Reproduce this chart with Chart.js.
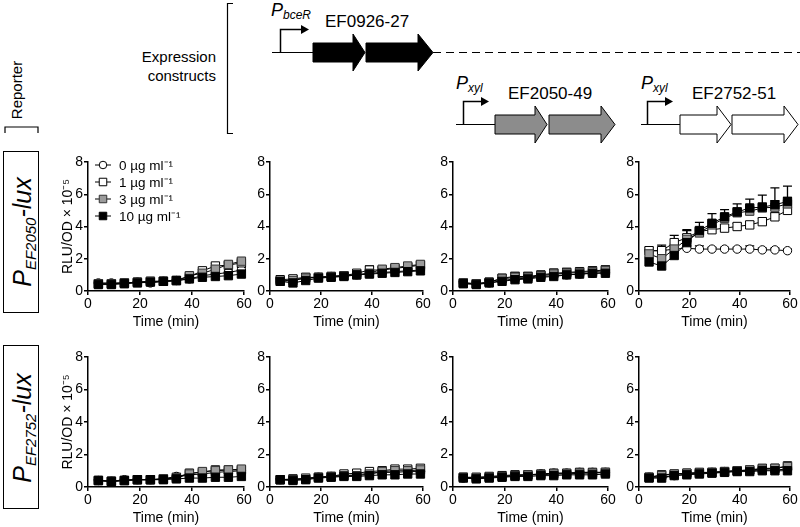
<!DOCTYPE html>
<html>
<head>
<meta charset="utf-8">
<script src="https://cdn.jsdelivr.net/npm/chart.js@4.4.1/dist/chart.umd.min.js"></script>
<style>
  html, body { margin: 0; padding: 0; background: #fff; }
  #wrap { position: relative; width: 800px; height: 527px; overflow: hidden; }
  #wrap svg { position: absolute; left: 0; top: 0; }
  #wrap canvas { position: absolute; }
</style>
</head>
<body>
<div id="wrap">
<svg width="800" height="527" font-family="Liberation Sans, Arial, sans-serif">
  <!-- reporter label + bracket -->
  <text transform="translate(22,90) rotate(-90)" text-anchor="middle" font-size="15">Reporter</text>
  <path d="M5,133 V127 H38 V133" fill="none" stroke="#000" stroke-width="1.2"/>

  <!-- reporter boxes -->
  <rect x="3.5" y="151.5" width="35" height="161" fill="none" stroke="#000" stroke-width="1"/>
  <text transform="translate(31,232) rotate(-90)" text-anchor="middle" font-style="italic"><tspan font-size="25">P</tspan><tspan font-size="15" dy="5">EF2050</tspan><tspan font-size="25" dy="-5">-lux</tspan></text>
  <rect x="3.5" y="345.5" width="35" height="163" fill="none" stroke="#000" stroke-width="1"/>
  <text transform="translate(31,428) rotate(-90)" text-anchor="middle" font-style="italic"><tspan font-size="25">P</tspan><tspan font-size="15" dy="5">EF2752</tspan><tspan font-size="25" dy="-5">-lux</tspan></text>

  <!-- expression constructs label + bracket -->
  <text x="216" y="62" text-anchor="end" font-size="15">Expression</text>
  <text x="216" y="81" text-anchor="end" font-size="15">constructs</text>
  <path d="M233,3.5 H227.5 V133.5 H233" fill="none" stroke="#000" stroke-width="1.2"/>

  <!-- PbceR EF0926-27 -->
  <line x1="272" y1="52.5" x2="313" y2="52.5" stroke="#000" stroke-width="1.2"/>
  <path d="M280.5,52.5 V29.5 H302" fill="none" stroke="#000" stroke-width="1.5"/>
  <polygon points="301,25 309,29.5 301,34" fill="#000"/>
  <text x="271" y="16" font-style="italic" font-size="18">P<tspan font-size="12" dy="3">bceR</tspan></text>
  <text x="325" y="27" font-size="17">EF0926-27</text>
  <polygon points="313,43 353,43 353,34 365,52.5 353,71 353,62 313,62" fill="#000" stroke="#000"/>
  <polygon points="366,43 418,43 418,34 433,52.5 418,71 418,62 366,62" fill="#000" stroke="#000"/>
  <line x1="433" y1="52.5" x2="800" y2="52.5" stroke="#000" stroke-width="1.2" stroke-dasharray="8,5"/>

  <!-- Pxyl EF2050-49 -->
  <line x1="456" y1="124.5" x2="495" y2="124.5" stroke="#000" stroke-width="1.2"/>
  <path d="M463.5,124.5 V101.5 H482" fill="none" stroke="#000" stroke-width="1.5"/>
  <polygon points="481,97 489,101.5 481,106" fill="#000"/>
  <text x="456" y="89" font-style="italic" font-size="18">P<tspan font-size="12" dy="3">xyl</tspan></text>
  <text x="508" y="99" font-size="17">EF2050-49</text>
  <polygon points="495,115 535,115 535,106 547,124.5 535,143 535,134 495,134" fill="#8c8c8c" stroke="#000"/>
  <polygon points="549,115 601,115 601,106 615,124.5 601,143 601,134 549,134" fill="#8c8c8c" stroke="#000"/>

  <!-- Pxyl EF2752-51 -->
  <line x1="641" y1="124.5" x2="680" y2="124.5" stroke="#000" stroke-width="1.2"/>
  <path d="M647.5,124.5 V101.5 H666" fill="none" stroke="#000" stroke-width="1.5"/>
  <polygon points="665,97 673,101.5 665,106" fill="#000"/>
  <text x="641" y="89" font-style="italic" font-size="18">P<tspan font-size="12" dy="3">xyl</tspan></text>
  <text x="692" y="99" font-size="17">EF2752-51</text>
  <polygon points="680,115 717,115 717,106 731,124.5 717,143 717,134 680,134" fill="#fff" stroke="#000"/>
  <polygon points="732,115 784,115 784,106 798,124.5 784,143 784,134 732,134" fill="#fff" stroke="#000"/>
</svg>
</div>

<script>
// time points (min) and labels
const times = [4, 9, 14, 19, 24, 29, 34, 39, 44, 49, 54, 59];
const doses = ['0 µg ml⁻¹', '1 µg ml⁻¹', '3 µg ml⁻¹', '10 µg ml⁻¹'];
const xTicks = [0, 20, 40, 60];
const yTicks = [0, 2, 4, 6, 8];

// reporter PEF2050-lux (top row), RLU/OD x 10^-5
const top_wt_0  = [0.50, 0.50, 0.50, 0.55, 0.50, 0.60, 0.65, 0.75, 0.95, 1.05, 1.15, 1.30];
const top_wt_1  = [0.45, 0.45, 0.50, 0.55, 0.60, 0.60, 0.65, 0.90, 1.25, 1.55, 1.60, 1.75];
const top_wt_3  = [0.45, 0.45, 0.50, 0.55, 0.60, 0.60, 0.65, 0.95, 1.10, 1.35, 1.65, 1.85];
const top_wt_10 = [0.40, 0.40, 0.45, 0.50, 0.55, 0.60, 0.65, 0.75, 0.85, 0.90, 0.95, 1.05];
const top_wt_err = [0.05, 0.05, 0.05, 0.05, 0.05, 0.05, 0.05, 0.10, 0.10, 0.15, 0.15, 0.15];

const top_bce_0  = [0.60, 0.70, 0.80, 0.85, 0.90, 0.95, 1.00, 1.10, 1.15, 1.20, 1.25, 1.30];
const top_bce_1  = [0.70, 0.75, 0.85, 0.85, 0.90, 0.95, 1.10, 1.30, 1.30, 1.40, 1.50, 1.60];
const top_bce_3  = [0.60, 0.65, 0.80, 0.85, 0.90, 0.95, 1.00, 1.10, 1.35, 1.45, 1.55, 1.65];
const top_bce_10 = [0.60, 0.50, 0.65, 0.80, 0.85, 0.90, 1.00, 1.05, 1.10, 1.15, 1.20, 1.25];
const top_bce_err = [0.15, 0.20, 0.20, 0.15, 0.15, 0.15, 0.15, 0.25, 0.15, 0.15, 0.15, 0.15];

const top_2050_0  = [0.50, 0.45, 0.50, 0.65, 0.75, 0.80, 0.90, 0.95, 1.00, 1.05, 1.10, 1.15];
const top_2050_1  = [0.50, 0.45, 0.55, 0.80, 0.90, 0.90, 1.00, 1.10, 1.15, 1.20, 1.25, 1.30];
const top_2050_3  = [0.50, 0.45, 0.55, 0.75, 0.85, 0.85, 0.95, 1.05, 1.10, 1.15, 1.20, 1.25];
const top_2050_10 = [0.45, 0.40, 0.50, 0.60, 0.70, 0.75, 0.85, 0.90, 1.00, 1.05, 1.10, 1.10];
const top_2050_err = [0.10, 0.10, 0.15, 0.20, 0.25, 0.25, 0.20, 0.25, 0.25, 0.20, 0.25, 0.25];

const top_2752_0  = [2.50, 2.50, 2.60, 2.65, 2.60, 2.60, 2.60, 2.60, 2.60, 2.55, 2.55, 2.50];
const top_2752_1  = [2.50, 2.50, 3.00, 3.30, 3.70, 3.80, 3.90, 4.00, 4.10, 4.30, 4.60, 5.00];
const top_2752_3  = [2.30, 2.00, 2.60, 3.20, 3.60, 4.10, 4.50, 4.85, 4.95, 5.15, 5.20, 5.40];
const top_2752_10 = [1.80, 1.55, 2.20, 3.00, 3.75, 4.20, 4.60, 4.90, 5.15, 5.20, 5.35, 5.55];
const top_2752_err0  = [0.10, 0.10, 0.10, 0.15, 0.20, 0.10, 0.10, 0.10, 0.20, 0.10, 0.10, 0.10];
const top_2752_err1  = [0.20, 0.35, 0.45, 0.45, 0.20, 0.20, 0.20, 0.20, 0.20, 0.20, 0.25, 0.20];
const top_2752_err3  = [0.20, 0.20, 0.30, 0.30, 0.30, 0.30, 0.30, 0.30, 0.30, 0.30, 0.40, 0.40];
const top_2752_err10 = [0.30, 0.30, 0.30, 0.80, 0.50, 0.60, 0.45, 0.50, 0.55, 0.75, 1.05, 0.95];

// reporter PEF2752-lux (bottom row)
const bot_wt_0  = [0.40, 0.35, 0.45, 0.45, 0.45, 0.50, 0.65, 0.75, 0.80, 0.90, 0.95, 1.00];
const bot_wt_1  = [0.40, 0.35, 0.40, 0.45, 0.45, 0.50, 0.60, 0.85, 0.90, 1.05, 1.05, 1.05];
const bot_wt_3  = [0.40, 0.35, 0.40, 0.45, 0.45, 0.50, 0.55, 0.80, 0.95, 1.00, 1.05, 1.10];
const bot_wt_10 = [0.40, 0.35, 0.40, 0.45, 0.45, 0.45, 0.50, 0.55, 0.55, 0.60, 0.60, 0.65];
const bot_wt_err = [0.05, 0.05, 0.05, 0.05, 0.05, 0.05, 0.05, 0.10, 0.10, 0.10, 0.10, 0.10];

const bot_bce_0  = [0.45, 0.45, 0.50, 0.60, 0.65, 0.70, 0.75, 0.85, 0.90, 0.90, 0.95, 0.95];
const bot_bce_1  = [0.45, 0.50, 0.50, 0.60, 0.65, 0.80, 0.85, 0.95, 1.00, 1.10, 1.10, 1.15];
const bot_bce_3  = [0.45, 0.45, 0.55, 0.60, 0.65, 0.70, 0.70, 0.80, 0.95, 1.00, 1.00, 1.05];
const bot_bce_10 = [0.45, 0.40, 0.45, 0.55, 0.60, 0.65, 0.65, 0.70, 0.75, 0.75, 0.80, 0.80];
const bot_bce_err = [0.05, 0.05, 0.05, 0.05, 0.05, 0.05, 0.05, 0.10, 0.10, 0.10, 0.10, 0.10];

const bot_2050_0  = [0.55, 0.55, 0.60, 0.65, 0.70, 0.75, 0.80, 0.85, 0.85, 0.90, 0.90, 0.90];
const bot_2050_1  = [0.60, 0.60, 0.65, 0.70, 0.75, 0.75, 0.80, 0.85, 0.85, 0.90, 0.90, 0.90];
const bot_2050_3  = [0.60, 0.55, 0.60, 0.65, 0.70, 0.75, 0.75, 0.80, 0.80, 0.85, 0.85, 0.90];
const bot_2050_10 = [0.55, 0.50, 0.55, 0.60, 0.65, 0.65, 0.70, 0.70, 0.75, 0.75, 0.75, 0.80];
const bot_2050_err = [0.05, 0.05, 0.05, 0.05, 0.05, 0.05, 0.05, 0.05, 0.05, 0.05, 0.05, 0.05];

const bot_2752_0  = [0.60, 0.60, 0.70, 0.80, 0.85, 0.90, 0.95, 1.00, 1.00, 1.05, 1.05, 1.10];
const bot_2752_1  = [0.60, 0.75, 0.80, 0.85, 0.90, 0.90, 0.95, 1.00, 1.05, 1.15, 1.15, 1.30];
const bot_2752_3  = [0.60, 0.70, 0.80, 0.85, 0.85, 0.90, 0.95, 1.00, 1.05, 1.10, 1.15, 1.25];
const bot_2752_10 = [0.55, 0.55, 0.70, 0.75, 0.80, 0.85, 0.90, 0.95, 0.95, 1.00, 1.00, 1.00];
const bot_2752_err = [0.05, 0.05, 0.05, 0.05, 0.05, 0.05, 0.05, 0.05, 0.05, 0.05, 0.05, 0.10];

/* =========================
   LAYOUT + STYLES
========================= */
const FONT = '"Liberation Sans", Arial, sans-serif';
Chart.defaults.font.family = FONT;
Chart.defaults.color = '#000';

const cols = [{ x: 88, w: 156 }, { x: 270, w: 153 }, { x: 453, w: 155 }, { x: 639, w: 151 }];
const rows = [{ y: 162, h: 129 }, { y: 357, h: 130 }];
const AXIS_W = 44, AXIS_H = 42, PAD_T = 10, PAD_R = 14;

// 0, 1, 3, 10 µg/ml
const seriesStyle = [
  { pointStyle: 'circle', radius: 4.2, bg: '#fff',    border: '#000' },
  { pointStyle: 'rect',   radius: 5.9, bg: '#fff',    border: '#000' },
  { pointStyle: 'rect',   radius: 5.9, bg: '#9b9b9b', border: '#333' },
  { pointStyle: 'rect',   radius: 5.9, bg: '#000',    border: '#000' },
];

const panels = [
  { row: 0, col: 0, vals: [top_wt_0, top_wt_1, top_wt_3, top_wt_10], errs: [top_wt_err, top_wt_err, top_wt_err, top_wt_err] },
  { row: 0, col: 1, vals: [top_bce_0, top_bce_1, top_bce_3, top_bce_10], errs: [top_bce_err, top_bce_err, top_bce_err, top_bce_err] },
  { row: 0, col: 2, vals: [top_2050_0, top_2050_1, top_2050_3, top_2050_10], errs: [top_2050_err, top_2050_err, top_2050_err, top_2050_err] },
  { row: 0, col: 3, vals: [top_2752_0, top_2752_1, top_2752_3, top_2752_10], errs: [top_2752_err0, top_2752_err1, top_2752_err3, top_2752_err10] },
  { row: 1, col: 0, vals: [bot_wt_0, bot_wt_1, bot_wt_3, bot_wt_10], errs: [bot_wt_err, bot_wt_err, bot_wt_err, bot_wt_err] },
  { row: 1, col: 1, vals: [bot_bce_0, bot_bce_1, bot_bce_3, bot_bce_10], errs: [bot_bce_err, bot_bce_err, bot_bce_err, bot_bce_err] },
  { row: 1, col: 2, vals: [bot_2050_0, bot_2050_1, bot_2050_3, bot_2050_10], errs: [bot_2050_err, bot_2050_err, bot_2050_err, bot_2050_err] },
  { row: 1, col: 3, vals: [bot_2752_0, bot_2752_1, bot_2752_3, bot_2752_10], errs: [bot_2752_err, bot_2752_err, bot_2752_err, bot_2752_err] },
];

/* =========================
   PLUGINS
========================= */
// upper error bars (drawn under the markers)
const errorBars = {
  id: 'errorBars',
  beforeDatasetsDraw(chart) {
    const { ctx, scales: { x, y } } = chart;
    ctx.save();
    ctx.strokeStyle = '#000';
    ctx.lineWidth = 1.3;
    chart.data.datasets.forEach((ds) => {
      if (!ds.errors) return;
      ds.data.forEach((p, i) => {
        const e = ds.errors[i];
        if (!e) return;
        const px = x.getPixelForValue(p.x);
        const py = y.getPixelForValue(p.y);
        const pe = y.getPixelForValue(p.y + e);
        ctx.beginPath();
        ctx.moveTo(px, py); ctx.lineTo(px, pe);
        ctx.moveTo(px - 4.5, pe); ctx.lineTo(px + 4.5, pe);
        ctx.stroke();
      });
    });
    ctx.restore();
  }
};

// legend inside the first panel
const doseLegend = {
  id: 'doseLegend',
  afterDatasetsDraw(chart) {
    const { ctx, chartArea } = chart;
    ctx.save();
    doses.forEach((label, i) => {
      const st = seriesStyle[i];
      const y = chartArea.top + 3 + i * 17;
      const x = chartArea.left + 15;
      ctx.strokeStyle = '#000';
      ctx.lineWidth = 1;
      ctx.beginPath(); ctx.moveTo(x - 8, y); ctx.lineTo(x + 8, y); ctx.stroke();
      ctx.fillStyle = st.bg;
      ctx.strokeStyle = st.border;
      Chart.helpers.drawPoint(ctx, { pointStyle: st.pointStyle, radius: st.radius * 0.9, borderWidth: 1, rotation: 0 }, x, y);
      ctx.fillStyle = '#000';
      ctx.font = '13.5px ' + FONT;
      ctx.textAlign = 'left';
      ctx.textBaseline = 'middle';
      ctx.fillText(label, chartArea.left + 31, y + 1);
    });
    ctx.restore();
  }
};

/* =========================
   BUILD PANELS
========================= */
const wrap = document.getElementById('wrap');

panels.forEach((p, idx) => {
  const c = cols[p.col], r = rows[p.row];
  const canvas = document.createElement('canvas');
  const W = c.w + AXIS_W + PAD_R, H = r.h + PAD_T + AXIS_H;
  canvas.width = W; canvas.height = H;
  canvas.style.left = (c.x - AXIS_W) + 'px';
  canvas.style.top = (r.y - PAD_T) + 'px';
  canvas.style.width = W + 'px';
  canvas.style.height = H + 'px';
  wrap.appendChild(canvas);

  const datasets = p.vals.map((vals, i) => ({
    label: doses[i],
    data: times.map((t, k) => ({ x: t, y: vals[k] })),
    errors: p.errs[i],
    borderColor: '#000',
    borderWidth: 1,
    pointStyle: seriesStyle[i].pointStyle,
    pointRadius: seriesStyle[i].radius,
    pointBackgroundColor: seriesStyle[i].bg,
    pointBorderColor: seriesStyle[i].border,
    pointBorderWidth: 1,
    showLine: true,
    fill: false,
    tension: 0,
    clip: false,
    order: 3 - i,   // black on top
  }));

  const tickFont = { size: 14, family: FONT };
  new Chart(canvas, {
    type: 'scatter',
    data: { datasets },
    options: {
      responsive: false,
      animation: false,
      devicePixelRatio: 1,
      layout: { padding: { top: PAD_T, right: PAD_R, left: 0, bottom: 0 } },
      plugins: { legend: { display: false }, tooltip: { enabled: false } },
      scales: {
        x: {
          type: 'linear', min: 0, max: 60,
          afterFit: (s) => { s.height = AXIS_H; },
          afterBuildTicks: (s) => { s.ticks = xTicks.map(v => ({ value: v })); },
          ticks: { font: tickFont, color: '#000', padding: 1, maxRotation: 0, autoSkip: false },
          grid: { display: true, drawOnChartArea: false, drawTicks: true, tickLength: 4, color: '#000', lineWidth: 1.5 },
          border: { display: true, color: '#000', width: 1.5 },
          title: { display: true, text: 'Time (min)', font: tickFont, color: '#000', padding: { top: 0, bottom: 2.6 } },
        },
        y: {
          type: 'linear', min: 0, max: 8,
          afterFit: (s) => { s.width = AXIS_W; },
          afterBuildTicks: (s) => { s.ticks = yTicks.map(v => ({ value: v })); },
          ticks: { font: tickFont, color: '#000', padding: 1 },
          grid: { display: true, drawOnChartArea: false, drawTicks: true, tickLength: 4, color: '#000', lineWidth: 1.5 },
          border: { display: true, color: '#000', width: 1.5 },
          title: { display: p.col === 0, text: 'RLU/OD × 10⁻⁵', font: tickFont, color: '#000', padding: { top: 15.6, bottom: 0 } },
        },
      },
    },
    plugins: idx === 0 ? [errorBars, doseLegend] : [errorBars],
  });
});
</script>
</body>
</html>
